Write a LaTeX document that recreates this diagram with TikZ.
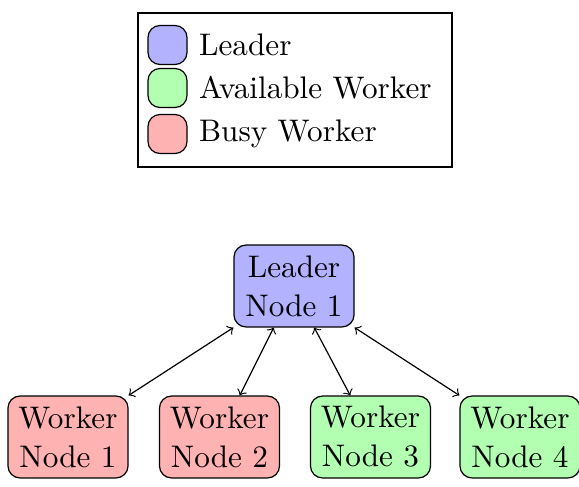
\documentclass[tikz,border=0pt]{standalone}
\usetikzlibrary{calc}
\begin{document}
\begin{tikzpicture}[x=0.3333pt,y=-0.3333pt,
  every node/.style={font=\fontsize{10.4}{13}\selectfont},
  box/.style={draw,rounded corners=4pt,align=center,minimum width=40pt,minimum height=27.3pt,inner sep=0pt},
  leaderbox/.style={box,fill=blue!30},
  freebox/.style={box,fill=green!30},
  busybox/.style={box,fill=red!30},
  swatch/.style={draw,rounded corners=4pt,minimum width=13pt,minimum height=13pt,inner sep=0pt},
  entry/.style={anchor=west},
  link/.style={<->}]
\useasboundingbox (0,0) rectangle (579,486);
% legend
\node[draw,minimum width=104.7pt,minimum height=51.3pt,inner sep=0pt] (legend) at (295,90) {};
\node[swatch,fill=blue!30] (s1) at (167.5,45) {};
\node[swatch,fill=green!30] (s2) at (167.5,88) {};
\node[swatch,fill=red!30] (s3) at (167.5,134) {};
\node[entry] (t1) at (188.5,45) {Leader};
\node[entry] (t2) at (188.5,88) {Available Worker};
\node[entry] (t3) at (188.5,134) {Busy Worker};
% cluster
\node[leaderbox] (L) at (294,286) {Leader\\Node 1};
\node[busybox] (W1) at (68,437) {Worker\\Node 1};
\node[busybox] (W2) at (219.5,437) {Worker\\Node 2};
\node[freebox] (W3) at (370.5,437) {Worker\\Node 3};
\node[freebox] (W4) at (520,437) {Worker\\Node 4};
\draw[link] (L.south west) -- (W1.north east);
\draw[link] ($(L.south west)!0.333!(L.south east)$) -- ($(W2.north west)!0.667!(W2.north east)$);
\draw[link] ($(L.south west)!0.667!(L.south east)$) -- ($(W3.north west)!0.333!(W3.north east)$);
\draw[link] (L.south east) -- (W4.north west);
\end{tikzpicture}
\end{document}
